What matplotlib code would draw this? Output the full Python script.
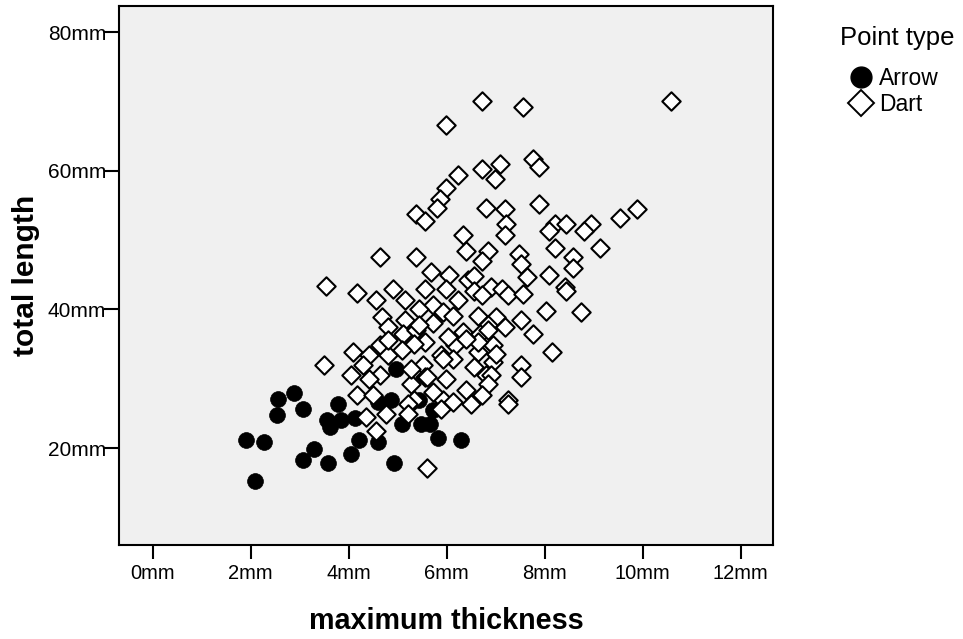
import matplotlib
matplotlib.use("Agg")
import matplotlib.pyplot as plt
from matplotlib.lines import Line2D

plt.rcParams['font.family'] = ['Liberation Sans', 'DejaVu Sans']

# Arrow points: maximum thickness (mm), total length (mm)
arrow_thick = [1.90, 2.27, 2.10, 2.53, 2.55, 2.88, 3.06, 3.06, 3.29, 3.57,
               4.04, 3.55, 3.63, 3.84, 3.78, 4.14, 4.22, 4.61, 4.86, 4.61,
               5.10, 5.47, 5.67, 5.82, 6.29, 4.92, 5.43, 5.73, 4.96]
arrow_len = [21.2, 20.8, 15.2, 24.7, 27.1, 28.0, 25.7, 18.2, 19.8, 17.9,
             19.1, 24.1, 23.1, 24.1, 26.4, 24.4, 21.2, 26.7, 27.0, 20.9,
             23.4, 23.4, 23.5, 21.4, 21.2, 17.8, 27.0, 25.5, 31.4]

# Dart points
dart_thick = [10.57, 6.73, 7.56, 5.98, 7.76, 7.08, 7.89, 6.73, 6.98, 6.23,
              5.98, 5.86, 5.80, 6.80, 7.19, 7.89, 9.89, 5.37, 5.56, 9.53,
              7.22, 8.22, 8.44, 8.95, 8.80, 8.08, 7.19, 6.34, 6.39, 6.85,
              7.47, 8.22, 8.58, 9.12, 6.73, 7.51, 8.58, 4.65, 5.37, 5.69,
              6.05, 6.43, 6.55, 7.65, 8.08, 3.54, 4.18, 4.90, 5.16, 4.55,
              8.41, 8.44, 5.56, 5.98, 6.55, 6.90, 6.73, 7.14, 7.26, 7.56,
              6.23, 5.72, 5.43, 5.93, 6.13, 6.64, 7.00, 7.51, 8.02, 8.74,
              4.69, 5.16, 4.80, 5.72, 6.85, 7.19, 6.34, 5.12, 5.37, 6.69,
              7.77, 5.56, 6.18, 6.64, 6.95, 6.64, 4.10, 4.65, 4.41, 4.80,
              5.88, 8.16, 3.49, 4.29, 4.04, 4.65, 5.51, 6.13, 5.93, 6.55,
              6.95, 7.51, 7.51, 5.98, 5.56, 6.80, 6.90, 6.85, 4.18, 4.49,
              5.27, 5.33, 6.39, 6.73, 7.26, 5.93, 4.41, 5.27, 5.61, 5.22,
              5.22, 5.88, 6.13, 6.49, 7.26, 4.35, 4.76, 4.55, 5.61,
              5.33, 4.80, 5.10, 5.73, 7.00, 6.85, 5.43, 6.02, 6.39]
dart_len = [70.1, 70.1, 69.2, 66.6, 61.7, 61.0, 60.6, 60.3, 58.9, 59.4,
            57.6, 55.9, 54.6, 54.6, 54.5, 55.2, 54.5, 53.8, 52.8, 53.2,
            52.3, 52.3, 52.3, 52.3, 51.3, 51.3, 50.8, 50.8, 48.5, 48.5,
            48.0, 48.8, 47.6, 48.8, 47.0, 46.6, 46.0, 47.6, 47.6, 45.4,
            45.0, 44.3, 44.9, 44.7, 45.0, 43.4, 42.4, 42.9, 41.4, 41.4,
            43.3, 42.7, 42.9, 42.9, 42.7, 43.3, 42.1, 42.9, 42.1, 42.2,
            41.4, 40.7, 40.1, 39.6, 39.1, 39.1, 38.9, 38.5, 39.8, 39.6,
            38.9, 38.5, 37.4, 38.1, 37.8, 37.4, 36.7, 36.4, 37.0, 36.4,
            36.4, 35.3, 34.9, 33.8, 34.9, 35.3, 33.8, 34.9, 33.4, 33.4,
            33.4, 33.8, 32.0, 32.0, 30.6, 30.6, 32.0, 32.8, 32.8, 31.7,
            32.4, 32.0, 30.3, 30.0, 30.3, 30.6, 30.6, 29.2, 27.7, 27.7,
            29.2, 26.9, 28.4, 27.7, 26.9, 26.9, 30.0, 31.4, 30.3, 26.4,
            24.9, 25.7, 26.7, 26.4, 26.4, 24.5, 24.9, 22.4, 17.1,
            35.0, 35.6, 34.1, 28.1, 33.5, 37.0, 37.7, 36.0, 35.7]

x_ticks = [0, 2, 4, 6, 8, 10, 12]
y_ticks = [20, 40, 60, 80]

fig = plt.figure(figsize=(9.63, 6.39), dpi=100)
ax = fig.add_axes([0.1233, 0.1471, 0.6794, 0.8435])
ax.set_facecolor('#f0f0f0')

ax.scatter(arrow_thick, arrow_len, s=130, marker='o', color='black',
           edgecolors='black', linewidths=0.5, zorder=2)
ax.scatter(dart_thick, dart_len, s=88, marker='D', facecolors='white',
           edgecolors='black', linewidths=1.5, zorder=3)

ax.set_xlim(-0.69, 12.66)
ax.set_ylim(6.0, 83.8)
ax.set_xticks(x_ticks)
ax.set_xticklabels([f"{v}mm" for v in x_ticks])
ax.set_yticks(y_ticks)
ax.set_yticklabels([f"{v}mm" for v in y_ticks])

for sp in ax.spines.values():
    sp.set_linewidth(1.5)
    sp.set_color('black')

ax.tick_params(axis='x', length=10, width=1.5, pad=4, labelsize=14.5)
ax.tick_params(axis='y', length=11, width=1.5, pad=-2, labelsize=15)

ax.set_xlabel("maximum thickness", fontsize=20.7, fontweight='bold', va='center')
ax.xaxis.set_label_coords(0.5, (545 - 621) / 539)
ax.set_ylabel("total length", fontsize=21.5, fontweight='bold', va='center', ha='center')
ax.yaxis.set_label_coords((26 - 118.75) / 654.25, 0.5)

# legend
fig.text(840 / 963, 1 - 38 / 639, "Point type", fontsize=18.5, ha='left', va='center')
handles = [
    Line2D([], [], marker='o', linestyle='none', markersize=15,
           markerfacecolor='black', markeredgecolor='black', label='Arrow'),
    Line2D([], [], marker='D', linestyle='none', markersize=13,
           markerfacecolor='white', markeredgecolor='black', markeredgewidth=1.4,
           label='Dart'),
]
fig.legend(handles=handles, loc='upper left', bbox_to_anchor=(850 / 963, 1 - 67 / 639),
           frameon=False, fontsize=16.5, borderpad=0, borderaxespad=0,
           handlelength=1.0, handletextpad=0.25, labelspacing=0.15)

fig.savefig("out.png", dpi=100)
